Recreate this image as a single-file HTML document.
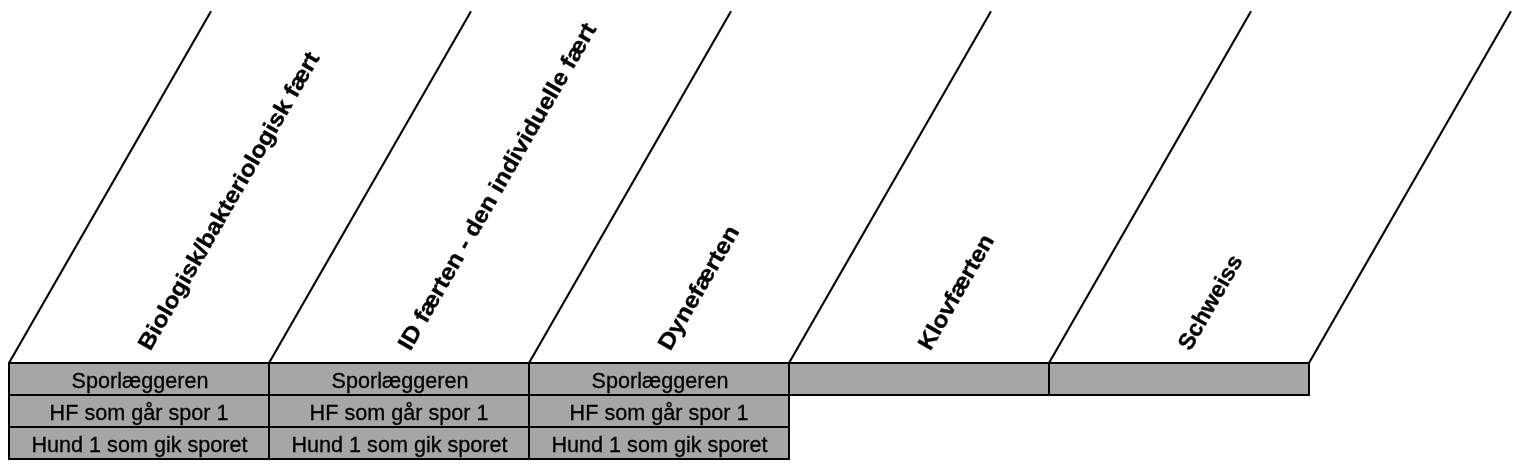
<!DOCTYPE html>
<html><head><meta charset="utf-8"><style>
html,body{margin:0;padding:0;background:#fff;width:1522px;height:468px;overflow:hidden}
svg{display:block;will-change:transform}
.h{font-family:"Liberation Sans",sans-serif;font-weight:bold;font-size:24px;fill:#000;stroke:#000;stroke-width:0.4px}
.r{font-family:"Liberation Sans",sans-serif;font-size:21.6px;fill:#000;stroke:#000;stroke-width:0.3px;text-anchor:middle}
</style></head><body>
<svg width="1522" height="468" viewBox="0 0 1522 468">
<rect x="10" y="364" width="1298" height="30" fill="#a6a6a6"/>
<rect x="10" y="396" width="778" height="62" fill="#a6a6a6"/>
<rect x="8" y="362" width="1302" height="2" fill="#000"/>
<rect x="8" y="394" width="1302" height="2" fill="#000"/>
<rect x="8" y="426" width="782" height="2" fill="#000"/>
<rect x="8" y="458" width="782" height="2" fill="#000"/>
<rect x="8" y="362" width="2" height="98" fill="#000"/>
<rect x="268" y="362" width="2" height="98" fill="#000"/>
<rect x="528" y="362" width="2" height="98" fill="#000"/>
<rect x="788" y="362" width="2" height="98" fill="#000"/>
<rect x="1048" y="362" width="2" height="34" fill="#000"/>
<rect x="1308" y="362" width="2" height="34" fill="#000"/>
<line x1="9.0" y1="363" x2="211.0" y2="11.2" stroke="#000" stroke-width="2.1"/>
<line x1="269.0" y1="363" x2="471.0" y2="11.2" stroke="#000" stroke-width="2.1"/>
<line x1="529.0" y1="363" x2="731.0" y2="11.2" stroke="#000" stroke-width="2.1"/>
<line x1="789.0" y1="363" x2="991.0" y2="11.2" stroke="#000" stroke-width="2.1"/>
<line x1="1049.0" y1="363" x2="1251.0" y2="11.2" stroke="#000" stroke-width="2.1"/>
<line x1="1309.0" y1="363" x2="1511.0" y2="11.2" stroke="#000" stroke-width="2.1"/>
<text x="150.30" y="351.8" transform="rotate(-60 150.30 351.8) translate(150.30 351.8) scale(1 0.95) translate(-150.30 -351.8)" class="h" textLength="339.8" lengthAdjust="spacingAndGlyphs">Biologisk/bakteriologisk fært</text>
<text x="410.30" y="351.8" transform="rotate(-60 410.30 351.8) translate(410.30 351.8) scale(1 0.95) translate(-410.30 -351.8)" class="h" textLength="373.2" lengthAdjust="spacingAndGlyphs">ID færten - den individuelle fært</text>
<text x="670.30" y="351.8" transform="rotate(-60 670.30 351.8) translate(670.30 351.8) scale(1 0.95) translate(-670.30 -351.8)" class="h" textLength="139.1" lengthAdjust="spacingAndGlyphs">Dynefærten</text>
<text x="930.30" y="351.8" transform="rotate(-60 930.30 351.8) translate(930.30 351.8) scale(1 0.95) translate(-930.30 -351.8)" class="h" textLength="129.1" lengthAdjust="spacingAndGlyphs">Klovfærten</text>
<text x="1190.30" y="351.8" transform="rotate(-60 1190.30 351.8) translate(1190.30 351.8) scale(1 0.95) translate(-1190.30 -351.8)" class="h" textLength="105.6" lengthAdjust="spacingAndGlyphs">Schweiss</text>
<text x="140" y="388.3" class="r">Sporlæggeren</text>
<text x="139" y="420.2" class="r">HF som går spor 1</text>
<text x="139.5" y="452" class="r">Hund 1 som gik sporet</text>
<text x="400" y="388.3" class="r">Sporlæggeren</text>
<text x="399" y="420.2" class="r">HF som går spor 1</text>
<text x="399.5" y="452" class="r">Hund 1 som gik sporet</text>
<text x="660" y="388.3" class="r">Sporlæggeren</text>
<text x="659" y="420.2" class="r">HF som går spor 1</text>
<text x="659.5" y="452" class="r">Hund 1 som gik sporet</text>
</svg>
</body></html>
